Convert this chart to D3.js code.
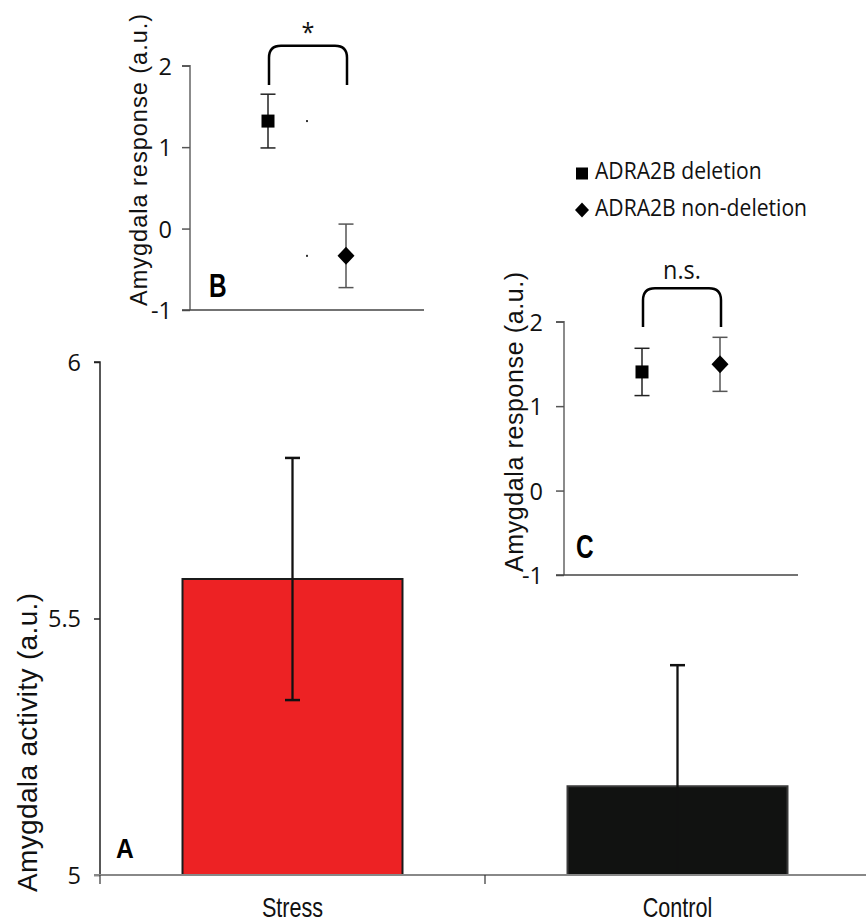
<!DOCTYPE html>
<html>
<head>
<meta charset="utf-8">
<script src="https://cdn.jsdelivr.net/npm/d3@7/dist/d3.min.js"></script>
<style>
  html, body { margin: 0; padding: 0; background: #fff; }
  svg { display: block; }
</style>
</head>
<body>
<svg id="chart" width="866" height="922"></svg>
<script>
// ---------- data ----------
const categories = ["Stress", "Control"];
const activityMean = [5.577, 5.173];
const activityErr = [0.236, 0.236];
const activityTicks = [5, 5.5, 6];

const genotypes = ["ADRA2B deletion", "ADRA2B non-deletion"];
const stressMean = [1.32, -0.335];
const stressErr = [0.33, 0.39];
const controlMean = [1.405, 1.495];
const controlErr = [0.28, 0.32];
const responseTicks = [-1, 0, 1, 2];

const stressSig = "*";
const controlSig = "n.s.";

// ---------- setup ----------
const svg = d3.select("#chart");
const tickFont = "'Open Sans', sans-serif";
const labelFont = "'Liberation Sans', Arial, sans-serif";

function ctext(g, x, y, str, opts) {
  return g.append("text")
    .attr("transform", `translate(${x},${y}) scale(${opts.sx},1)`)
    .attr("text-anchor", opts.anchor || "start")
    .attr("font-family", opts.font)
    .attr("font-weight", opts.weight || "normal")
    .attr("font-size", opts.size)
    .attr("fill", opts.fill || "#111")
    .text(str);
}

// ---------- Panel A: bar chart ----------
const A = { left: 100, right: 870, top: 362, bottom: 875 };
const xA = d3.scaleBand().domain(categories).range([A.left, A.right])
  .paddingInner(0.4286).paddingOuter(0.2143);
const yA = d3.scaleLinear().domain([5, 6]).range([A.bottom, A.top]);

const gA = svg.append("g");

gA.selectAll("rect.bar").data(categories).join("rect")
  .attr("x", d => xA(d))
  .attr("y", (d, i) => yA(activityMean[i]))
  .attr("width", xA.bandwidth())
  .attr("height", (d, i) => yA(5) - yA(activityMean[i]))
  .attr("fill", (d, i) => i === 0 ? "#ED2224" : "#111211")
  .attr("stroke", (d, i) => i === 0 ? "#1a1a1a" : "#3a3a3a")
  .attr("stroke-width", 2);

categories.forEach((c, i) => {
  const cx = xA(c) + xA.bandwidth() / 2;
  const hi = activityMean[i] + activityErr[i];
  const lo = Math.max(5, activityMean[i] - activityErr[i]);
  gA.append("line").attr("x1", cx).attr("x2", cx)
    .attr("y1", yA(hi)).attr("y2", yA(lo))
    .attr("stroke", "#111").attr("stroke-width", 2.3);
  gA.append("line").attr("x1", cx - 7.5).attr("x2", cx + 7.5)
    .attr("y1", yA(hi)).attr("y2", yA(hi))
    .attr("stroke", "#111").attr("stroke-width", 2.5);
  if (activityMean[i] - activityErr[i] >= 5) {
    gA.append("line").attr("x1", cx - 7.5).attr("x2", cx + 7.5)
      .attr("y1", yA(lo)).attr("y2", yA(lo))
      .attr("stroke", "#111").attr("stroke-width", 2.5);
  }
});

const yAxisA = d3.axisLeft(yA).tickValues(activityTicks).tickSize(6).tickPadding(13)
  .tickFormat(d => d3.format("")(d));
const gyA = gA.append("g").attr("transform", `translate(${A.left},0)`).call(yAxisA);
gyA.select(".domain").attr("stroke", "#222").attr("stroke-width", 1.5)
  .attr("d", `M-6,${A.top}H0V${A.bottom}`);
gyA.selectAll(".tick line").attr("stroke", "#222").attr("stroke-width", 1.5);
gyA.selectAll(".tick text").attr("font-family", tickFont).attr("font-size", 23.5)
  .attr("fill", "#111").attr("dy", "0.36em");

gA.append("line").attr("x1", A.left - 6).attr("x2", 866)
  .attr("y1", A.bottom).attr("y2", A.bottom)
  .attr("stroke", "#888").attr("stroke-width", 2);
const step = xA.step();
const boundaries = [A.left, xA(categories[1]) - step * xA.paddingInner() / 2];
gA.selectAll("line.bt").data(boundaries).join("line")
  .attr("x1", d => d).attr("x2", d => d)
  .attr("y1", A.bottom).attr("y2", A.bottom + 9)
  .attr("stroke", "#333").attr("stroke-width", 1.2);

categories.forEach(c => ctext(gA, xA(c) + xA.bandwidth() / 2, 917, c,
  { sx: 0.8, anchor: "middle", font: labelFont, size: 27 }));

gA.append("text")
  .attr("transform", `translate(36.5,892) rotate(-90)`)
  .attr("text-anchor", "start")
  .attr("font-family", labelFont).attr("font-size", 28)
  .attr("letter-spacing", 0.35).attr("fill", "#111")
  .text("Amygdala activity (a.u.)");

ctext(gA, 116, 858, "A", { sx: 0.88, font: labelFont, weight: "bold", size: 28, fill: "#000" });

// ---------- inset panels ----------
function inset(cfg) {
  const g = svg.append("g");
  const x = d3.scaleLinear().domain([0, 3]).range([cfg.left, cfg.right]);
  const y = d3.scaleLinear().domain([-1, 2]).range([cfg.bottom, cfg.top]);

  const yAxis = d3.axisLeft(y).tickValues(responseTicks).tickSize(8).tickPadding(cfg.pad)
    .tickFormat(d3.format(""));
  const gy = g.append("g").attr("transform", `translate(${cfg.left},0)`).call(yAxis);
  gy.select(".domain").attr("stroke", "#666").attr("stroke-width", 1.5)
    .attr("d", `M-8,${cfg.top}H0V${cfg.bottom}`);
  gy.selectAll(".tick line").attr("stroke", "#555").attr("stroke-width", 1.5);
  gy.selectAll(".tick text").attr("font-family", tickFont).attr("font-size", 23.5)
    .attr("fill", "#111").attr("dy", "0.36em").text(d => d < 0 ? "-" + Math.abs(d) : d);

  g.append("line").attr("x1", cfg.left - 8).attr("x2", cfg.right)
    .attr("y1", cfg.bottom).attr("y2", cfg.bottom)
    .attr("stroke", "#444").attr("stroke-width", 1.5);

  genotypes.forEach((gname, i) => {
    const cx = x(i + 1);
    const hi = cfg.mean[i] + cfg.err[i], lo = cfg.mean[i] - cfg.err[i];
    const col = i === 0 ? "#222" : "#555";
    g.append("line").attr("x1", cx).attr("x2", cx).attr("y1", y(hi)).attr("y2", y(lo))
      .attr("stroke", col).attr("stroke-width", 1.5);
    [hi, lo].forEach(v => g.append("line").attr("x1", cx - 7.5).attr("x2", cx + 7.5)
      .attr("y1", y(v)).attr("y2", y(v)).attr("stroke", col).attr("stroke-width", 1.5));
  });
  g.append("rect").attr("x", x(1) - 6.5).attr("y", y(cfg.mean[0]) - 6.5)
    .attr("width", 13).attr("height", 13).attr("fill", "#000");
  const dx = x(2), dy = y(cfg.mean[1]);
  g.append("path").attr("d", `M${dx},${dy - 9}L${dx + 8.5},${dy}L${dx},${dy + 9}L${dx - 8.5},${dy}Z`)
    .attr("fill", "#000");

  if (cfg.dots) {
    cfg.mean.forEach(m => g.append("rect").attr("x", x(1.5) - 1).attr("y", y(m) - 1)
      .attr("width", 2).attr("height", 2).attr("fill", "#333"));
  }

  const x1 = x(1) + 1, x2 = x(2) + 1, yt = y(cfg.brTop), ye = y(cfg.brEnd), r = 12;
  g.append("path")
    .attr("d", `M${x1},${ye}L${x1},${yt + r}Q${x1},${yt} ${x1 + r},${yt}L${x2 - r},${yt}Q${x2},${yt} ${x2},${yt + r}L${x2},${ye}`)
    .attr("fill", "none").attr("stroke", "#000").attr("stroke-width", 2.5);
  ctext(g, (x1 + x2) / 2, cfg.sigY, cfg.sig, { sx: 0.9, anchor: "middle", font: tickFont, size: 26 });

  g.append("text")
    .attr("transform", `translate(${cfg.labX},${cfg.labY}) rotate(-90)`)
    .attr("text-anchor", "start")
    .attr("font-family", labelFont).attr("font-size", cfg.labSize)
    .attr("letter-spacing", cfg.labSpacing).attr("fill", "#111")
    .text("Amygdala response (a.u.)");

  ctext(g, cfg.letterX, cfg.letterY, cfg.letter, { sx: 0.74, font: labelFont, weight: "bold", size: 33, fill: "#000" });
}

inset({
  left: 190, right: 424, top: 65.7, bottom: 310, pad: 10,
  mean: stressMean, err: stressErr, dots: true,
  brTop: 2.245, brEnd: 1.763, sig: stressSig, sigY: 41,
  labX: 146.7, labY: 306, labSize: 23.5, labSpacing: 1.0,
  letter: "B", letterX: 209, letterY: 297
});

inset({
  left: 564, right: 798, top: 321.7, bottom: 575, pad: 13,
  mean: controlMean, err: controlErr, dots: false,
  brTop: 2.396, brEnd: 1.937, sig: controlSig, sigY: 279,
  labX: 523.3, labY: 572, labSize: 25, labSpacing: 0.6,
  letter: "C", letterX: 576, letterY: 558
});

// ---------- legend ----------
const leg = svg.append("g");
leg.append("rect").attr("x", 576).attr("y", 167.5).attr("width", 12).attr("height", 12).attr("fill", "#000");
leg.append("path").attr("d", "M582,202.5L589,210L582,217.5L575,210Z").attr("fill", "#000");
genotypes.forEach((d, i) => ctext(leg, 595, i === 0 ? 179 : 216, d,
  { sx: 0.88, font: tickFont, size: 24 }));
</script>
</body>
</html>
